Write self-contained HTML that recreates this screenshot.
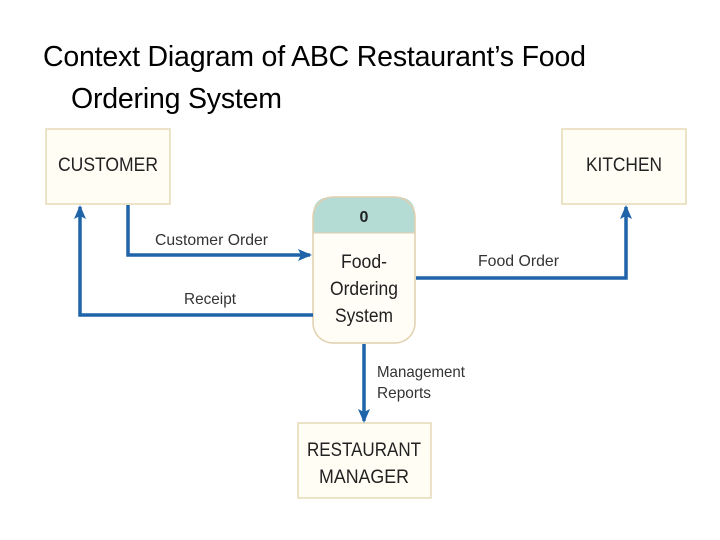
<!DOCTYPE html>
<html><head><meta charset="utf-8"><style>
body{margin:0;background:#fff;width:720px;height:540px;overflow:hidden;position:relative;font-family:"Liberation Sans",sans-serif}
.t{position:absolute;font-family:"Liberation Sans",sans-serif;font-size:28.5px;color:#000;left:43px;top:36px;line-height:42px;letter-spacing:-0.2px}
</style></head><body>
<div class="t">Context Diagram of ABC Restaurant’s Food<br><span style="padding-left:28px">Ordering System</span></div>
<svg width="720" height="540" style="position:absolute;left:0;top:0" font-family="Liberation Sans, sans-serif">
<defs><marker id="a" markerWidth="14" markerHeight="12" refX="12" refY="6" orient="auto" markerUnits="userSpaceOnUse"><path d="M0,0 L14,6 L0,12 L3,6 z" fill="#1f64a8"/></marker></defs>
<g fill="#fffdf4" stroke="#e6dab6" stroke-width="1.5">
<rect x="46" y="129" width="124" height="75"/>
<rect x="562" y="129" width="124" height="75"/>
<rect x="298" y="423" width="133" height="75"/>
</g>
<g fill="#222" font-size="19" text-anchor="middle">
<text x="108" y="171" textLength="100" lengthAdjust="spacingAndGlyphs">CUSTOMER</text>
<text x="624" y="171" textLength="76" lengthAdjust="spacingAndGlyphs">KITCHEN</text>
<text x="364" y="456" textLength="114" lengthAdjust="spacingAndGlyphs">RESTAURANT</text>
<text x="364" y="483" textLength="90" lengthAdjust="spacingAndGlyphs">MANAGER</text>
</g>
<path d="M313,215 Q313,197 331,197 L397,197 Q415,197 415,215 L415,233 L313,233 Z" fill="#b4dcd5"/>
<path d="M313,233 L415,233 L415,322 Q415,343 394,343 L334,343 Q313,343 313,322 Z" fill="#fffdf6"/>
<rect x="313" y="197" width="102" height="146" rx="20" fill="none" stroke="#e2cfae" stroke-width="1.5"/>
<line x1="313" y1="233" x2="415" y2="233" stroke="#e2cfae" stroke-width="1"/>
<g fill="#222" font-size="19" text-anchor="middle">
<text x="364" y="222" font-weight="bold" font-size="16">0</text>
<text x="364" y="268" textLength="46" lengthAdjust="spacingAndGlyphs">Food-</text>
<text x="364" y="295" textLength="68" lengthAdjust="spacingAndGlyphs">Ordering</text>
<text x="364" y="322" textLength="58" lengthAdjust="spacingAndGlyphs">System</text>
</g>
<g stroke="#1f64a8" stroke-width="3.5" fill="none">
<path d="M128,205 L128,255 L310,255" marker-end="url(#a)"/>
<path d="M313,315 L80,315 L80,207" marker-end="url(#a)"/>
<path d="M416,278 L626,278 L626,207" marker-end="url(#a)"/>
<path d="M364,344 L364,421" marker-end="url(#a)"/>
</g>
<g fill="#333" font-size="16">
<text x="155" y="245" textLength="113" lengthAdjust="spacingAndGlyphs">Customer Order</text>
<text x="184" y="304" textLength="52" lengthAdjust="spacingAndGlyphs">Receipt</text>
<text x="478" y="266" textLength="81" lengthAdjust="spacingAndGlyphs">Food Order</text>
<text x="377" y="377" textLength="88" lengthAdjust="spacingAndGlyphs">Management</text>
<text x="377" y="398" textLength="54" lengthAdjust="spacingAndGlyphs">Reports</text>
</g>
</svg>
</body></html>
